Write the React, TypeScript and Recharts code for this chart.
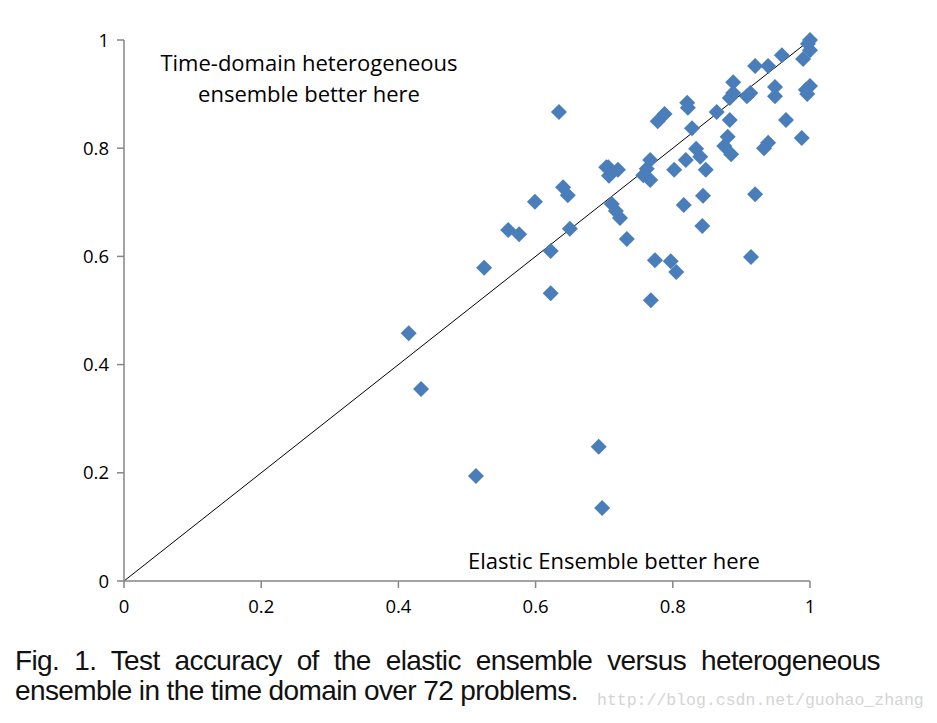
import { ScatterChart, Scatter, XAxis, YAxis, ReferenceLine } from 'recharts'

// accuracy of the elastic ensemble (x) vs time-domain heterogeneous ensemble (y)
const elasticAcc = [
  0.415, 0.433, 0.513, 0.525, 0.56, 0.576, 0.599, 0.622, 0.622, 0.634,
  0.64, 0.647, 0.65, 0.692, 0.697, 0.703, 0.707, 0.711, 0.717, 0.72,
  0.723, 0.733, 0.757, 0.767, 0.767, 0.768, 0.774, 0.778, 0.788, 0.797,
  0.802, 0.805, 0.816, 0.819, 0.821, 0.822, 0.828, 0.834, 0.84, 0.843,
  0.844, 0.848, 0.864, 0.875, 0.88, 0.883, 0.883, 0.888, 0.885, 0.888,
  0.908, 0.913, 0.914, 0.92, 0.92, 0.933, 0.939, 0.939, 0.949, 0.949,
  0.959, 0.965, 0.988, 0.99, 0.994, 0.997, 1.0, 1.0, 1.0, 0.996,
  0.762, 0.706,
]
const heteroAcc = [
  0.458, 0.355, 0.194, 0.579, 0.649, 0.641, 0.701, 0.61, 0.532, 0.867,
  0.728, 0.713, 0.651, 0.248, 0.135, 0.765, 0.749, 0.697, 0.684, 0.76,
  0.671, 0.632, 0.75, 0.778, 0.741, 0.519, 0.593, 0.85, 0.863, 0.591,
  0.76, 0.571, 0.695, 0.778, 0.884, 0.875, 0.837, 0.799, 0.784, 0.656,
  0.712, 0.76, 0.867, 0.804, 0.821, 0.852, 0.893, 0.922, 0.789, 0.902,
  0.896, 0.902, 0.599, 0.952, 0.715, 0.8, 0.81, 0.952, 0.896, 0.913,
  0.972, 0.852, 0.819, 0.965, 0.908, 0.993, 1.0, 0.981, 0.915, 0.9,
  0.762, 0.765,
]
const ticks = [0, 0.2, 0.4, 0.6, 0.8, 1]

const data = elasticAcc.map((x, i) => ({ x, y: heteroAcc[i] }))

const Diamond = ({ cx, cy }: any) => (
  <path d={`M${cx},${cy - 8} L${cx + 8},${cy} L${cx},${cy + 8} L${cx - 8},${cy} Z`} fill="#4a7ebb" />
)

const tickStyle = { fontSize: 18.5, fill: '#000', fontFamily: 'Open Sans' }
const noteStyle = { position: 'absolute' as const, width: 400, textAlign: 'center' as const, fontFamily: 'Open Sans', fontSize: 22, lineHeight: '31px', color: '#000' }
const captionStyle = { position: 'absolute' as const, left: 15, fontFamily: 'Liberation Sans', fontSize: 28, letterSpacing: -0.6, lineHeight: '30px', color: '#111' }

export default function App() {
  return (
    <div style={{ position: 'absolute', left: 0, top: 0, width: 937, height: 723, background: '#fff' }}>
      <ScatterChart width={937} height={630} margin={{ top: 40, right: 127, left: 64, bottom: 19 }}>
        <XAxis
          type="number" dataKey="x" domain={[0, 1]} ticks={ticks}
          height={30} tick={tickStyle} tickSize={7}
          stroke="#868686" strokeWidth={1.5} tickMargin={12}
        />
        <YAxis
          type="number" dataKey="y" domain={[0, 1]} ticks={ticks}
          width={60} tick={tickStyle} tickSize={7}
          stroke="#868686" strokeWidth={1.5} tickMargin={8}
        />
        <ReferenceLine segment={[{ x: 0, y: 0 }, { x: 1, y: 1 }]} stroke="#000" strokeWidth={1} />
        <Scatter data={data} shape={<Diamond />} isAnimationActive={false} />
      </ScatterChart>

      <div style={{ ...noteStyle, left: 109, top: 47 }}>
        Time-domain heterogeneous<br />ensemble better here
      </div>
      <div style={{ ...noteStyle, left: 414, top: 545 }}>
        Elastic Ensemble better here
      </div>

      <div style={{ ...captionStyle, top: 646, width: 865, textAlign: 'justify', textAlignLast: 'justify' }}>
        Fig. 1. Test accuracy of the elastic ensemble versus heterogeneous
      </div>
      <div style={{ ...captionStyle, top: 676, whiteSpace: 'nowrap' }}>
        ensemble in the time domain over 72 problems.
      </div>
      <div style={{ position: 'absolute', left: 597, top: 690, fontFamily: 'Liberation Mono', fontSize: 16.5, lineHeight: '22px', color: '#d4d4d4', whiteSpace: 'nowrap' }}>
        http://blog.csdn.net/guohao_zhang
      </div>
    </div>
  )
}
